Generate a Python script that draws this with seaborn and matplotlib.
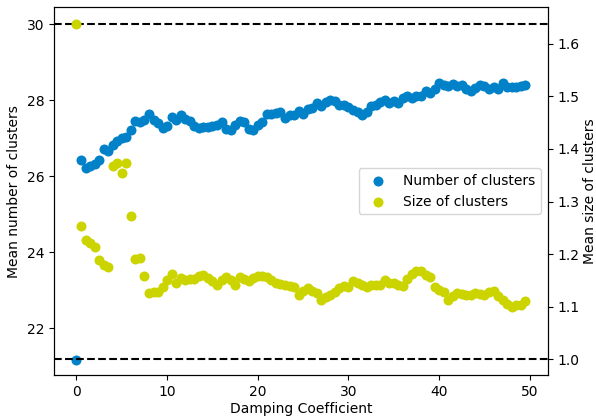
import matplotlib
matplotlib.use("Agg")
import matplotlib.pyplot as plt
import seaborn as sns
import numpy as np
import pandas as pd

damping = [i * 0.5 for i in range(100)]

num_clusters = [
    21.17, 26.43, 26.21, 26.27, 26.33, 26.43, 26.71, 26.66, 26.82, 26.93,
    27.00, 27.03, 27.22, 27.46, 27.44, 27.47, 27.65, 27.48, 27.40, 27.27,
    27.32, 27.57, 27.48, 27.62, 27.50, 27.45, 27.33, 27.28, 27.30, 27.29,
    27.32, 27.36, 27.42, 27.25, 27.22, 27.35, 27.45, 27.42, 27.24, 27.22,
    27.35, 27.42, 27.65, 27.65, 27.66, 27.68, 27.52, 27.60, 27.62, 27.72,
    27.65, 27.78, 27.80, 27.92, 27.85, 27.95, 28.00, 27.97, 27.88, 27.88,
    27.82, 27.75, 27.68, 27.62, 27.68, 27.85, 27.88, 27.95, 28.00, 27.94,
    27.98, 27.92, 28.05, 28.12, 28.05, 28.10, 28.10, 28.25, 28.20, 28.30,
    28.45, 28.40, 28.38, 28.42, 28.38, 28.40, 28.30, 28.25, 28.32, 28.40,
    28.38, 28.30, 28.35, 28.30, 28.45, 28.35, 28.36, 28.35, 28.38, 28.40,
]

size_clusters = [
    1.638, 1.254, 1.227, 1.221, 1.213, 1.189, 1.179, 1.175, 1.368, 1.373,
    1.355, 1.374, 1.273, 1.191, 1.192, 1.159, 1.126, 1.127, 1.128, 1.138,
    1.150, 1.162, 1.146, 1.155, 1.150, 1.153, 1.152, 1.158, 1.160, 1.155,
    1.148, 1.141, 1.150, 1.156, 1.150, 1.142, 1.156, 1.152, 1.148, 1.155,
    1.158, 1.159, 1.156, 1.150, 1.145, 1.143, 1.141, 1.140, 1.137, 1.122,
    1.130, 1.135, 1.130, 1.126, 1.113, 1.118, 1.123, 1.128, 1.135, 1.140,
    1.138, 1.148, 1.145, 1.141, 1.138, 1.142, 1.141, 1.141, 1.150, 1.146,
    1.145, 1.142, 1.140, 1.153, 1.163, 1.167, 1.167, 1.160, 1.157, 1.138,
    1.132, 1.128, 1.113, 1.120, 1.126, 1.124, 1.122, 1.123, 1.126, 1.124,
    1.122, 1.127, 1.129, 1.120, 1.113, 1.105, 1.100, 1.103, 1.104, 1.111,
]

left_ticks = [22, 24, 26, 28, 30]
right_ticks = [1.0, 1.1, 1.2, 1.3, 1.4, 1.5, 1.6]
x_ticks = [0, 10, 20, 30, 40, 50]

blue = "#0081c8"
yellow = "#ccd400"

df = pd.DataFrame({"damping": damping, "num": num_clusters, "size": size_clusters})

fig = plt.figure(figsize=(5.96, 4.17), dpi=100)
ax = fig.add_axes([54 / 596, 1 - 375.3 / 417, (547.7 - 54) / 596, (375.3 - 7) / 417])
ax2 = ax.twinx()

sns.scatterplot(data=df, x="damping", y="num", ax=ax, color=blue, s=52,
                linewidth=0, label="Number of clusters", legend=False)
sns.scatterplot(data=df, x="damping", y="size", ax=ax2, color=yellow, s=52,
                linewidth=0, label="Size of clusters", legend=False)

ax.axhline(30, color="black", linestyle="--", linewidth=1.5, zorder=1)
ax2.axhline(1.0, color="black", linestyle="--", linewidth=1.5, zorder=1)

ax.set_xlim(-2.475, 51.975)
ax.set_ylim(20.76, 30.455)
ax2.set_ylim(0.9695, 1.670)
ax.set_xticks(x_ticks)
ax.set_yticks(left_ticks)
ax2.set_yticks(right_ticks)

ax.set_xlabel("Damping Coefficient", labelpad=2.5)
ax.set_ylabel("Mean number of clusters")
ax2.set_ylabel("Mean size of clusters", labelpad=2.5)

h1, l1 = ax.get_legend_handles_labels()
h2, l2 = ax2.get_legend_handles_labels()
ax2.legend(h1 + h2, l1 + l2, loc="center right")

fig.savefig("out.png", dpi=100)
